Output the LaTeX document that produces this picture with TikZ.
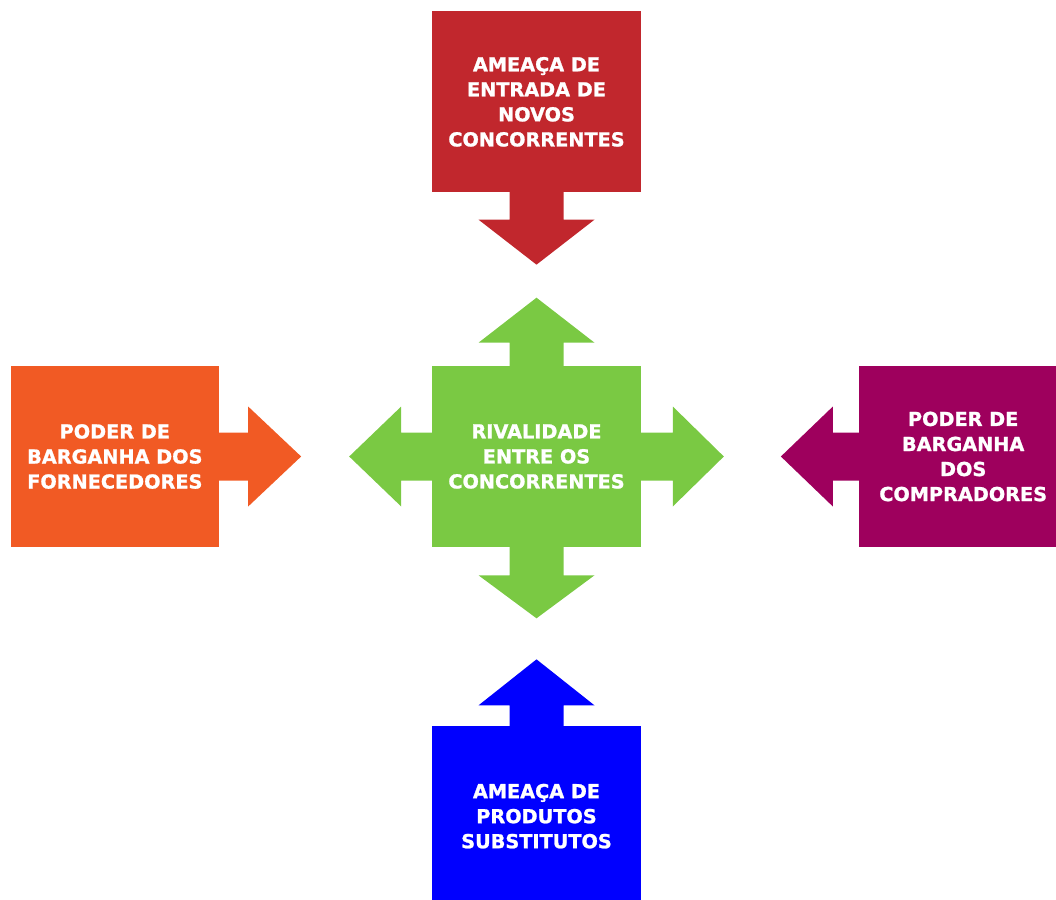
\documentclass[tikz,border=0pt]{standalone}
\usepackage{fontspec}
\setmainfont{DejaVu Sans}[BoldFeatures={FakeBold=1.2}]
\usetikzlibrary{positioning}

\definecolor{vermelho}{HTML}{C1272D}
\definecolor{verde}{HTML}{7AC943}
\definecolor{laranja}{HTML}{F15A24}
\definecolor{roxo}{HTML}{9E005D}
\definecolor{azul}{HTML}{0000FF}

\begin{document}
\begin{tikzpicture}[
  x=0.025cm, y=0.025cm,
  forca/.style={rectangle, minimum width=5.2cm, minimum height=4.525cm,
                inner sep=0pt, text=white, align=center,
                font=\fontsize{13.7}{17.8}\selectfont\bfseries},
]
\useasboundingbox (0,0) rectangle (1056,-899);

\node[forca, fill=verde] (rival) at (536.5,-456.5) {RIVALIDADE\\ENTRE OS\\CONCORRENTES};

\node[forca, fill=vermelho, above=4.325cm of rival] (novos) {AMEAÇA DE\\ENTRADA DE\\NOVOS\\CONCORRENTES};
\node[forca, fill=azul, below=4.45cm of rival] (subst) {AMEAÇA DE\\PRODUTOS\\SUBSTITUTOS};
\node[forca, fill=laranja, left=5.325cm of rival] (forn) {PODER DE\\BARGANHA DOS\\FORNECEDORES};
\node[forca, fill=roxo, right=5.45cm of rival] (comp) {PODER DE\\BARGANHA\\DOS\\COMPRADORES};

% setas: ancora/angulo/haste/meia largura/meia cabeca/ponta/cor
\foreach \no/\ang/\haste/\meia/\cab/\ponta/\cor in {
    novos.south/-90/27/27/58/45/vermelho,
    rival.north/90/23/27/58/45/verde,
    rival.south/-90/28/27/58/43/verde,
    rival.west/180/31/24/50/52/verde,
    rival.east/0/32/24/50/51/verde,
    forn.east/0/29/24/50/53/laranja,
    comp.west/180/26/24/50/52/roxo,
    subst.north/90/20/27/58/46/azul}
  \fill[\cor, shift={(\no)}, rotate=\ang]
    (-1,-\meia) -- (\haste,-\meia) -- (\haste,-\cab) -- (\haste+\ponta,0)
    -- (\haste,\cab) -- (\haste,\meia) -- (-1,\meia) -- cycle;

\end{tikzpicture}
\end{document}
